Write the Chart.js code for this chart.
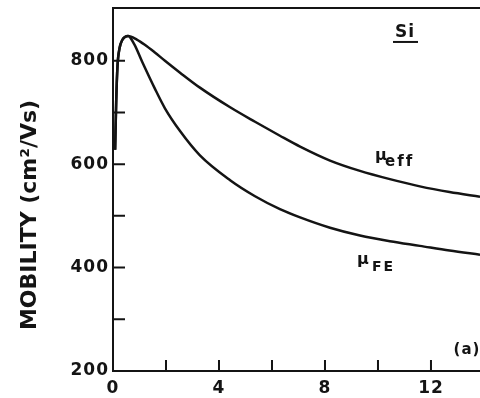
<!DOCTYPE html>
<html>
<head>
<meta charset="utf-8">
<script src="https://cdn.jsdelivr.net/npm/chart.js@4/dist/chart.umd.min.js"></script>
<style>
  html, body { margin: 0; padding: 0; background: #fff; }
  #wrap { width: 480px; height: 398px; }
</style>
</head>
<body>
<div id="wrap"><canvas id="chart"></canvas></div>
<script>
// values
const effX = [0.08, 0.12, 0.17, 0.25, 0.35, 0.45, 0.57, 0.9, 1.2, 1.58, 1.96, 2.53, 3.28, 4.42, 5.36, 6.3, 7.06, 8.19, 9.32, 10.45, 11.58, 12.7, 13.85];
const effY = [628, 720, 790, 825, 840, 846, 848, 841, 831, 816, 800, 777, 748, 710, 682, 655, 634, 607, 587, 571, 557, 546, 537];

const feX = [0.08, 0.12, 0.17, 0.25, 0.35, 0.45, 0.57, 0.8, 1.1, 1.58, 1.96, 2.53, 3.28, 4.42, 5.36, 6.3, 7.06, 8.19, 9.32, 10.45, 11.58, 12.7, 13.85];
const feY = [628, 720, 790, 825, 840, 846, 848, 832, 798, 746, 708, 664, 617, 569, 538, 513, 497, 477, 462, 451, 442, 433, 425];

const xTicks = [0, 2, 4, 6, 8, 10, 12];
const xTickLabels = [0, 4, 8, 12];
const yTicks = [200, 300, 400, 500, 600, 700, 800];
const yTickLabels = [200, 400, 600, 800];
const yTitle = 'MOBILITY (cm²/Vs)';

const toPoints = (xs, ys) => xs.map((x, i) => ({ x: x, y: ys[i] }));
const ink = '#141414';

// frame, inward ticks and the text notes of the figure
const figureBits = {
  id: 'figureBits',
  beforeDraw(chart) {
    chart.ctx.letterSpacing = '1px';
  },
  beforeDatasetsDraw(chart) {
    chart.ctx.letterSpacing = '0px';
  },
  afterDraw(chart) {
    const { ctx, chartArea: a, scales: { x, y } } = chart;
    ctx.save();
    ctx.strokeStyle = ink;
    ctx.fillStyle = ink;
    ctx.lineWidth = 2;

    ctx.beginPath();
    ctx.moveTo(a.left, a.top);
    ctx.lineTo(a.right, a.top);
    y.ticks.forEach(t => {
      if (t.value <= y.min) return;
      const py = y.getPixelForValue(t.value);
      ctx.moveTo(a.left, py);
      ctx.lineTo(a.left + 12, py);
    });
    x.ticks.forEach(t => {
      if (t.value <= x.min) return;
      const px = x.getPixelForValue(t.value);
      ctx.moveTo(px, a.bottom);
      ctx.lineTo(px, a.bottom - 11);
    });
    ctx.stroke();

    ctx.textBaseline = 'alphabetic';
    ctx.letterSpacing = '1px';

    // Si, underlined
    let px = x.getPixelForValue(11.02), py = y.getPixelForValue(846);
    ctx.font = 'bold 17px "DejaVu Sans"';
    ctx.textAlign = 'center';
    ctx.fillText('Si', px, py);
    ctx.beginPath();
    ctx.moveTo(px - 12, py + 5);
    ctx.lineTo(px + 13, py + 5);
    ctx.stroke();

    // mu_eff
    px = x.getPixelForValue(9.89); py = y.getPixelForValue(608);
    ctx.textAlign = 'left';
    ctx.font = 'bold 16px "DejaVu Sans"';
    ctx.fillText('μ', px, py);
    ctx.letterSpacing = '2px';
    ctx.font = 'bold 15px "DejaVu Sans"';
    ctx.fillText('eff', px + 10, py + 6);

    // mu_FE
    px = x.getPixelForValue(9.21); py = y.getPixelForValue(407);
    ctx.letterSpacing = '1px';
    ctx.font = 'bold 16px "DejaVu Sans"';
    ctx.fillText('μ', px, py);
    ctx.letterSpacing = '2px';
    ctx.font = 'bold 14px "DejaVu Sans"';
    ctx.fillText('FE', px + 15, py + 7);

    // panel label
    px = x.getPixelForValue(13.36); py = y.getPixelForValue(232);
    ctx.letterSpacing = '1px';
    ctx.textAlign = 'center';
    ctx.font = 'bold 15px "DejaVu Sans"';
    ctx.fillText('(a)', px, py);

    // axis title
    ctx.letterSpacing = '0px';
    ctx.translate(30, 215);
    ctx.rotate(-Math.PI / 2);
    ctx.textBaseline = 'middle';
    ctx.font = 'bold 22px "DejaVu Sans"';
    ctx.fillText(yTitle, 0, 0);
    ctx.restore();
  }
};

new Chart(document.getElementById('chart'), {
  type: 'line',
  data: {
    datasets: [
      {
        label: 'μeff',
        data: toPoints(effX, effY),
        borderColor: ink,
        borderWidth: 2.5,
        pointRadius: 0,
        cubicInterpolationMode: 'monotone',
      },
      {
        label: 'μFE',
        data: toPoints(feX, feY),
        borderColor: ink,
        borderWidth: 2.5,
        pointRadius: 0,
        cubicInterpolationMode: 'monotone',
      },
    ],
  },
  options: {
    responsive: true,
    maintainAspectRatio: false,
    animation: false,
    layout: { padding: { top: 8, right: 0, left: 0, bottom: 0 } },
    plugins: {
      legend: { display: false },
      tooltip: { enabled: false },
    },
    scales: {
      x: {
        type: 'linear',
        min: 0,
        max: 13.85,
        afterBuildTicks: (scale) => { scale.ticks = xTicks.map(v => ({ value: v })); },
        afterFit: (scale) => {
          scale.height = 27;
          scale.paddingLeft = 0;
          scale.paddingRight = 0;
        },
        grid: { display: true, drawOnChartArea: false, drawTicks: false },
        border: { display: true, color: ink, width: 2 },
        ticks: {
          autoSkip: false,
          padding: 7,
          color: ink,
          font: { family: 'DejaVu Sans', weight: 'bold', size: 17 },
          maxRotation: 0,
          callback: (v) => (xTickLabels.includes(v) ? String(v) : ''),
        },
      },
      y: {
        min: 200,
        max: 902,
        afterBuildTicks: (scale) => { scale.ticks = yTicks.map(v => ({ value: v })); },
        afterFit: (scale) => {
          scale.width = 113;
          scale.paddingTop = 0;
          scale.paddingBottom = 0;
        },
        grid: { display: true, drawOnChartArea: false, drawTicks: false },
        border: { display: true, color: ink, width: 2 },
        ticks: {
          autoSkip: false,
          padding: 4,
          color: ink,
          font: { family: 'DejaVu Sans', weight: 'bold', size: 17 },
          callback: (v) => (yTickLabels.includes(v) ? String(v) : ''),
        },
      },
    },
  },
  plugins: [figureBits],
});
</script>
</body>
</html>
